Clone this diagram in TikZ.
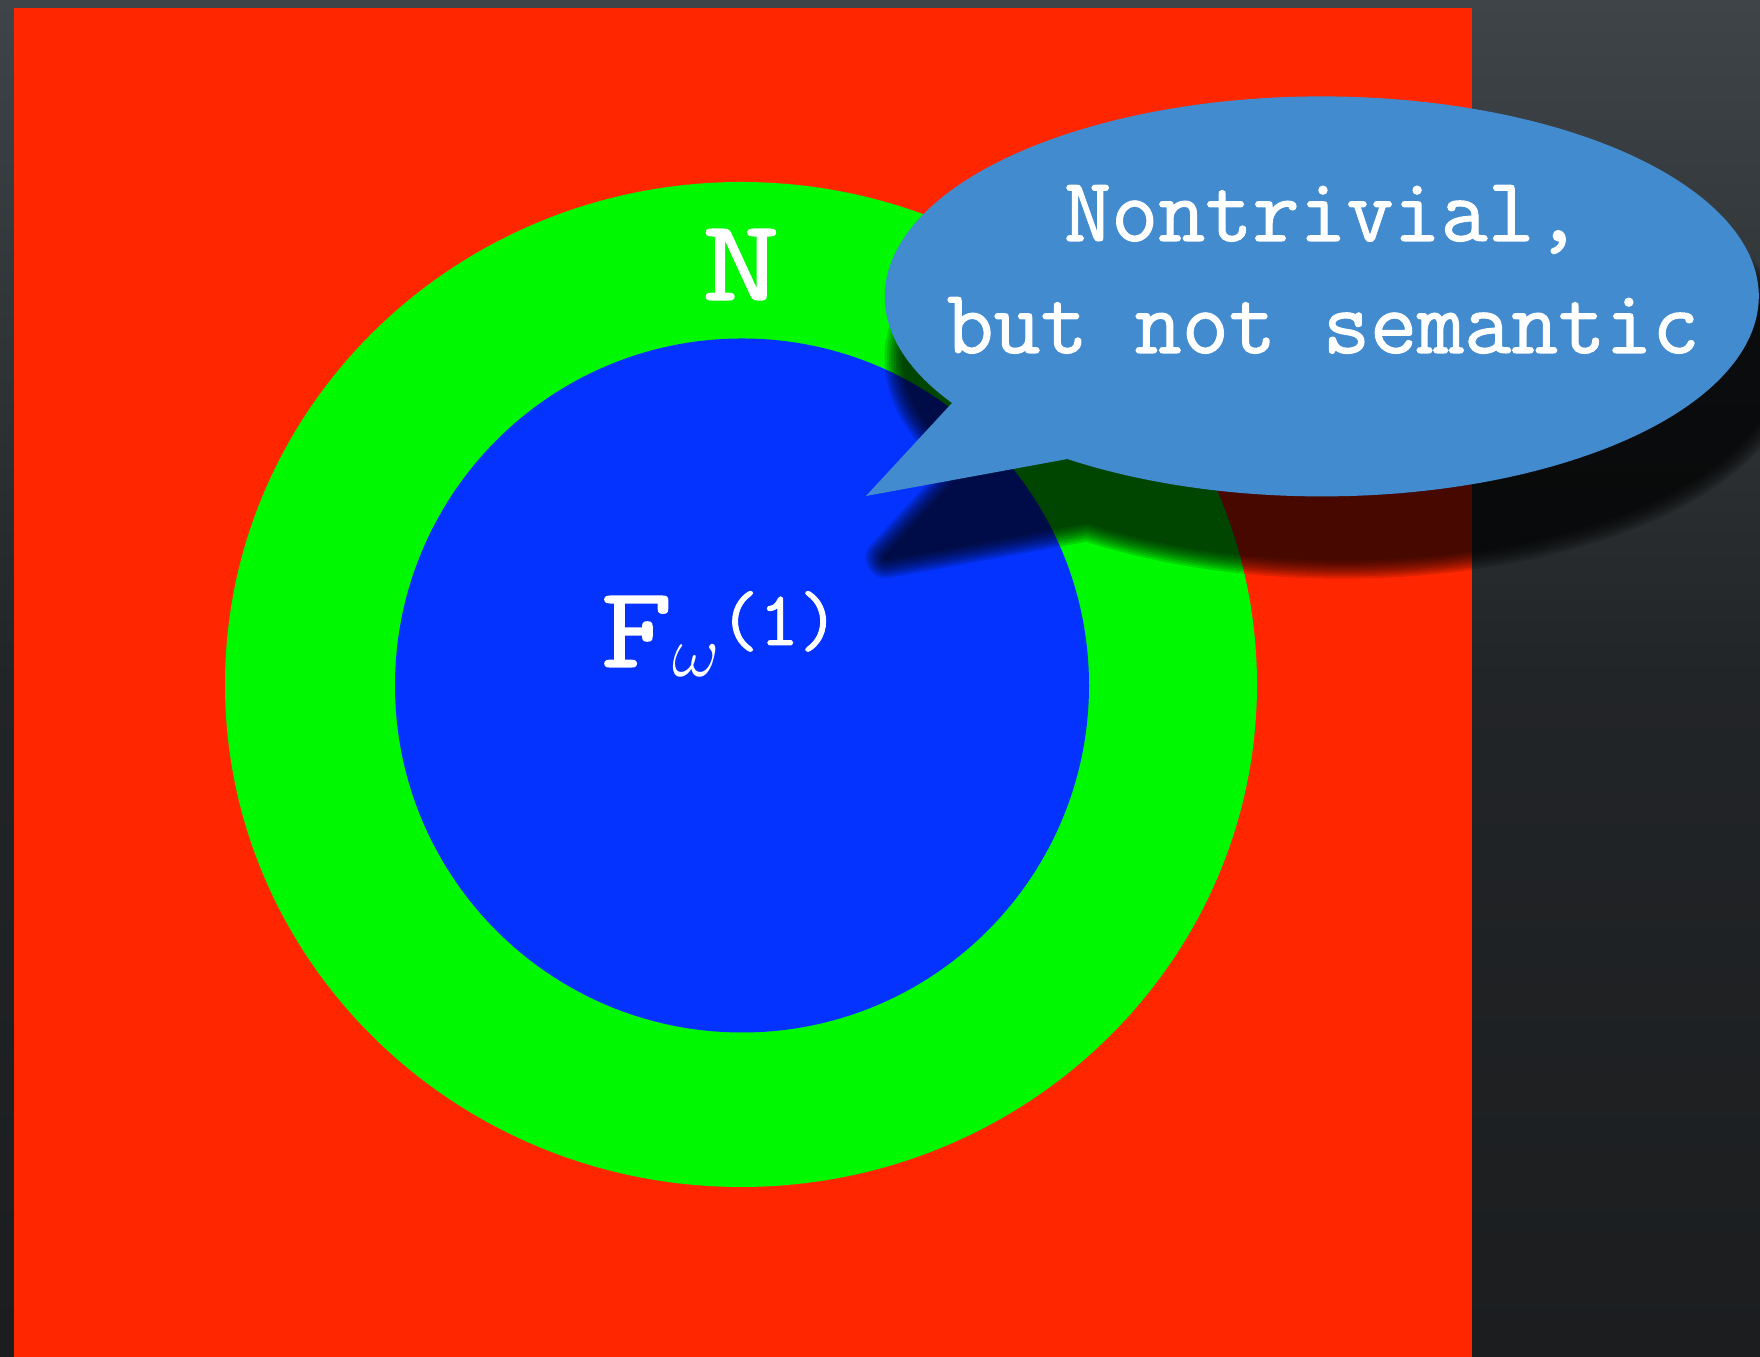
\documentclass[tikz,border=0pt]{standalone}
\usepackage{fontspec}
\newfontfamily\typefont{Latin Modern Mono}[FakeBold=1.2]
\usepackage{tikz}

\definecolor{bgtop}{RGB}{62,68,72}
\definecolor{bgbot}{RGB}{27,29,31}
\definecolor{setred}{RGB}{255,38,0}
\definecolor{setgreen}{RGB}{0,248,0}
\definecolor{setblue}{RGB}{4,51,255}
\definecolor{bubble}{RGB}{66,139,206}

\tikzset{
  biglabel/.style={text=white, inner sep=0pt, font=\typefont\fontsize{33}{36}\selectfont},
  saytext/.style={text=white, inner sep=0pt, anchor=base, font=\typefont\fontsize{26}{30}\selectfont}
}

\newcommand{\bubblepath}{(8.66,8.61) -- (9.52,9.54)
  arc[start angle=212.2, end angle=-125.6, x radius=4.37, y radius=2] -- cycle}

\begin{document}
\begin{tikzpicture}
        \useasboundingbox (0,0) rectangle (17.6,13.57);
        \shade[top color=bgtop, bottom color=bgbot, middle color=bgbot!80!bgtop] (0,0) rectangle (17.6,13.57);
        \fill[setred] (0.14,0) rectangle (14.72,13.49);
        \fill[setgreen] (7.41,6.725) ellipse (5.16 and 5.025);
        \fill[setblue] (7.42,6.715) circle (3.47);

        \node[biglabel, anchor=base] (N) at (7.41,10.57) {\scalebox{1.3}[1]{N}};
        \node[biglabel, anchor=base west] (Fw) at (6.0,6.90)
            {\scalebox{1.2}[1]{F}\raisebox{-0.1cm}{\fontsize{22}{24}\selectfont$\omega$}\raisebox{0.22cm}{\fontsize{22}{24}\selectfont(1)}};

        % soft shadow of the bubble
        \foreach \i in {1,...,9} {
            \begin{scope}[shift={(0.2,-0.62)}, transparency group, opacity=0.13]
                \filldraw[black, line width=\i*0.045cm, line join=round] \bubblepath;
            \end{scope}
        }

        \fill[bubble] \bubblepath;
        \coordinate (C) at (13.23,10.61);
        \node[saytext] (say1) at (13.23,11.16) {Nontrivial,};
        \node[saytext] (say2) at (13.23,10.04) {but not semantic};
    \end{tikzpicture}
\end{document}
